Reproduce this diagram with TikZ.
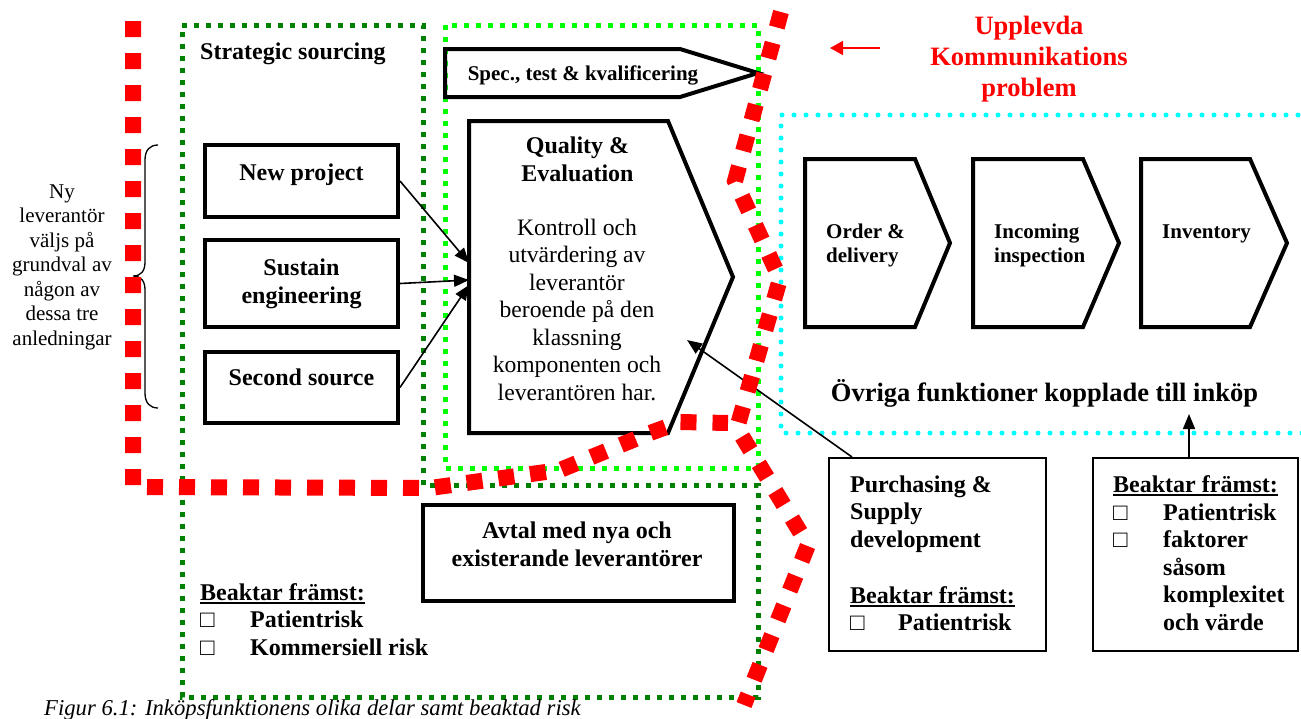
\documentclass[tikz,border=0pt]{standalone}
\usepackage{fontspec}
\setmainfont{Liberation Serif}
\usetikzlibrary{arrows.meta,calc}

\definecolor{probred}{RGB}{255,0,0}
\definecolor{sourcegreen}{RGB}{0,128,0}
\definecolor{qualgreen}{RGB}{0,255,0}
\definecolor{othercyan}{RGB}{0,255,255}

% underlined heading with a solid bar below the baseline
\newcommand{\ulbox}[1]{\setbox0=\hbox{#1}\rlap{\rule[-3.6pt]{\wd0}{1.8pt}}\box0}

\tikzset{
  frame/.style={draw=black, line width=4pt, inner sep=0pt},
  thinframe/.style={draw=black, line width=2pt, inner sep=0pt},
  outline/.style={draw=black, line width=4pt, line join=miter},
  holder/.style={inner sep=0pt, outer sep=0pt},
  boldtxt/.style={inner sep=0pt, font=\bfseries\fontsize{24}{28}\selectfont},
  listtxt/.style={inner sep=0pt, font=\bfseries\fontsize{24}{27.5}\selectfont},
  bodytxt/.style={inner sep=0pt, font=\fontsize{23.6}{27.5}\selectfont},
  sidetxt/.style={inner sep=0pt, font=\fontsize{21}{24.5}\selectfont},
  steptxt/.style={inner sep=0pt, font=\bfseries\fontsize{21}{24}\selectfont},
  boxmark/.style={inner sep=0pt, font=\fontsize{24}{27.5}\selectfont},
  darkdots/.style={draw=sourcegreen, line width=5pt, dash pattern=on 5pt off 7pt},
  litedots/.style={draw=qualgreen, line width=5pt, dash pattern=on 5pt off 7pt},
  cyandots/.style={draw=othercyan, line width=5pt, line cap=round, dash pattern=on 0pt off 12pt},
  redline/.style={draw=probred, line width=16pt, dash pattern=on 16pt off 16pt},
  conn/.style={draw=black, line width=1.6pt, -{Triangle[length=15pt,width=12pt]}},
  redarrow/.style={draw=probred, line width=1.6pt, -{Triangle[length=13pt,width=14pt]}},
}

\begin{document}
\begin{tikzpicture}[x=1pt,y=-1pt]
\useasboundingbox (0,0) rectangle (1301,718);

% ---- dotted group frames
\draw[darkdots] (182,25) -- (423,25) -- (423,485) -- (758,485) -- (758,697) -- (182,697) -- cycle;
\draw[litedots] (445,25) rectangle (758,468);
\draw[cyandots] (1310,115) -- (781,115) -- (781,433) -- (1310,433);

% ---- strategic sourcing
\node[boldtxt, anchor=base west] (strat) at (200,59) {Strategic sourcing};

\node[frame, minimum width=193pt, minimum height=72pt] (np) at (301.5,181) {};
\node[boldtxt, anchor=base] (npt) at (301.5,180) {New project};
\node[frame, minimum width=193pt, minimum height=87pt] (se) at (301.5,283.5) {};
\node[boldtxt, anchor=north, align=center] (set) at (301.5,255.4) {\strut Sustain\\engineering};
\node[frame, minimum width=193pt, minimum height=71pt] (ss) at (301.5,387.5) {};
\node[boldtxt, anchor=base] (sst) at (301.5,385) {Second source};

% ---- reason text with brace
\node[sidetxt, anchor=north, align=center] (why) at (62,180.85)
  {\strut Ny\\leverantör\\väljs på\\grundval av\\någon av\\dessa tre\\anledningar};
\draw[line width=1.3pt] (158,145) .. controls (150,145) and (145,150) .. (145,160) -- (145,262)
  .. controls (145,271) and (141,276) .. (133,276)
  .. controls (141,276) and (145,281) .. (145,290) -- (145,393)
  .. controls (145,403) and (150,408) .. (158,408);

% ---- specification step
\node[holder, minimum width=313pt, minimum height=48pt] (sp) at (601.5,73) {};
\draw[outline] (sp.north west) -- ([xshift=-78pt]sp.north east) -- (sp.east)
  -- ([xshift=-78pt]sp.south east) -- (sp.south west) -- cycle;
\node[inner sep=0pt, font=\bfseries\fontsize{21}{24}\selectfont, anchor=base] (spt) at (583,80)
  {Spec., test \& kvalificering};

% ---- quality & evaluation
\node[holder, minimum width=264pt, minimum height=312pt] (qe) at (601,277) {};
\draw[outline] (qe.north west) -- ([xshift=-65pt]qe.north east) -- (qe.east)
  -- ([xshift=-65pt]qe.south east) -- (qe.south west) -- cycle;
\node[boldtxt, anchor=north, align=center] (qet) at (577.5,133.4) {\strut Quality \&\\Evaluation};
\node[bodytxt, anchor=north, align=center] (qeb) at (577,215.75)
  {\strut Kontroll och\\utvärdering av\\leverantör\\beroende på den\\klassning\\komponenten och\\leverantören har.};

\draw[conn] (np.east) -- ([yshift=14pt]qe.west);
\draw[conn] (se.east) -- ([yshift=-3pt]qe.west);
\draw[conn] (ss.east) -- ([yshift=-8pt]qe.west);

% ---- agreements
\node[frame, minimum width=311pt, minimum height=96pt] (av) at (578.5,553) {};
\node[boldtxt, anchor=north, align=center] (avt) at (577,518.4) {\strut Avtal med nya och\\existerande leverantörer};

\node[listtxt, anchor=base west] (bk1) at (200,600) {\ulbox{Beaktar främst:}};
\node[boxmark, anchor=base west] (cb1) at (200,627.5) {□};
\node[boxmark, anchor=base west] (cb2) at (200,655) {□};
\node[listtxt, anchor=base west] (pr1) at (250,627.5) {Patientrisk};
\node[listtxt, anchor=base west] (kr1) at (250,655) {Kommersiell risk};

% ---- communication problem label
\node[inner sep=0pt, text=probred, font=\bfseries\fontsize{26.5}{31}\selectfont, anchor=north, align=center]
  (prob) at (1029,12.8) {\strut Upplevda\\Kommunikations\\problem};
\coordinate (rtail) at (880,48);
\coordinate (rhead) at (830,48);
\draw[redarrow] (rtail) -- (rhead);

% ---- other functions
\node[holder, minimum width=145pt, minimum height=168pt] (od) at (877.5,243) {};
\draw[outline] (od.north west) -- ([xshift=-35pt]od.north east) -- (od.east)
  -- ([xshift=-35pt]od.south east) -- (od.south west) -- cycle;
\node[steptxt, anchor=north west, align=left] (odt) at (826,221.2) {\strut Order \&\\delivery};

\node[holder, minimum width=146pt, minimum height=168pt] (ic) at (1046,243) {};
\draw[outline] (ic.north west) -- ([xshift=-36pt]ic.north east) -- (ic.east)
  -- ([xshift=-36pt]ic.south east) -- (ic.south west) -- cycle;
\node[steptxt, anchor=north west, align=left] (ict) at (994,221.2) {\strut Incoming\\inspection};

\node[holder, minimum width=146pt, minimum height=168pt] (iv) at (1214,243) {};
\draw[outline] (iv.north west) -- ([xshift=-37pt]iv.north east) -- (iv.east)
  -- ([xshift=-37pt]iv.south east) -- (iv.south west) -- cycle;
\node[steptxt, anchor=base west] (ivt) at (1162,238) {Inventory};

\node[inner sep=0pt, font=\bfseries\fontsize{26.5}{30}\selectfont, anchor=base] (ovr) at (1044.5,401.7)
  {Övriga funktioner kopplade till inköp};
\coordinate (ovrtip) at (1189,414);

% ---- purchasing & supply development
\node[thinframe, minimum width=217pt, minimum height=193pt] (pb) at (937.5,554.5) {};
\node[listtxt, anchor=north west, align=left] (pbt) at (850,472.7) {\strut Purchasing \&\\Supply\\development};
\node[listtxt, anchor=base west] (bk2) at (850,603) {\ulbox{Beaktar främst:}};
\node[boxmark, anchor=base west] (cb3) at (850,630) {□};
\node[listtxt, anchor=base west] (pr2) at (898,630) {Patientrisk};
\draw[conn] ([xshift=24pt]pb.north west) -- ($(qe.center)+(86,63)$);

% ---- considerations of the other functions
\node[thinframe, minimum width=205pt, minimum height=193pt] (rb) at (1195.5,554.5) {};
\node[listtxt, anchor=base west] (bk3) at (1113,492) {\ulbox{Beaktar främst:}};
\node[boxmark, anchor=base west] (cb4) at (1113,520) {□};
\node[boxmark, anchor=base west] (cb5) at (1113,547.5) {□};
\node[listtxt, anchor=north west, align=left] (rbt) at (1163,500.75)
  {\strut Patientrisk\\faktorer\\såsom\\komplexitet\\och värde};
\draw[conn] (rb.north -| ovrtip) -- (ovrtip);

% ---- perceived communication problem boundary
\draw[redline] (133,21) -- (133,487) -- (430,488) -- (560,470) -- (650,433) -- (680,422) -- (728,423);
\draw[redline] (781,12) -- (735,181) -- (780,279) -- (737,428) -- (808,545) -- (744,705);

% ---- caption
\node[inner sep=0pt, font=\itshape\fontsize{22.7}{26}\selectfont, anchor=base west] (cap) at (44,715)
  {Figur 6.1: Inköpsfunktionens olika delar samt beaktad risk};
\end{tikzpicture}
\end{document}
